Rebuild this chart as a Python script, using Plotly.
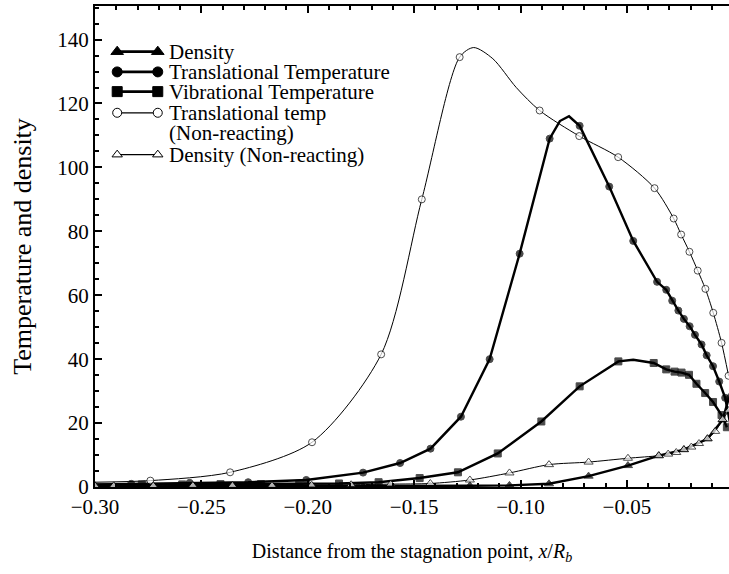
import plotly.graph_objects as go

# ---------------- data ----------------
# Translational temperature, non-reacting (open circles)
trans_nr_x = [-0.300, -0.274, -0.2365, -0.198, -0.1655, -0.1464, -0.1286, -0.122, -0.113, -0.102, -0.091,
              -0.0724, -0.0541, -0.037, -0.028, -0.0245, -0.0206, -0.0167, -0.0131, -0.0094, -0.0055, -0.0022]
trans_nr_y = [1.5, 2.0, 4.6, 14.0, 41.5, 90.0, 134.5, 137.5, 134.0, 125.0, 117.8,
              109.8, 103.2, 93.5, 84.0, 79.0, 73.6, 67.7, 62.0, 54.5, 45.1, 34.8]
trans_nr_mark = [0, 1, 1, 1, 1, 1, 1, 0, 0, 0, 1, 1, 1, 1, 1, 1, 1, 1, 1, 1, 1, 1]

# Translational temperature, reacting (filled circles)
trans_x = [-0.300, -0.283, -0.2555, -0.228, -0.2007, -0.174, -0.1566, -0.1423, -0.128, -0.1145,
           -0.1004, -0.0863, -0.0815, -0.0772, -0.0722, -0.0583, -0.047, -0.0358, -0.0315, -0.0287,
           -0.0258, -0.0232, -0.0205, -0.018, -0.0149, -0.0125, -0.0095, -0.0066, -0.0038, -0.0015]
trans_y = [0.8, 1.0, 1.3, 1.5, 2.2, 4.5, 7.5, 12.0, 22.0, 40.0,
           73.0, 109.0, 114.5, 116.0, 113.0, 94.0, 77.0, 64.2, 61.7, 58.3,
           55.2, 52.6, 50.3, 47.6, 44.6, 41.2, 37.8, 33.0, 27.9, 20.0]
trans_mark = [0, 1, 1, 1, 1, 1, 1, 1, 1, 1, 1, 1, 0, 0, 1, 1, 1, 1, 1, 1,
              1, 1, 1, 1, 1, 1, 1, 1, 1, 0]

# Vibrational temperature (filled squares)
vib_x = [-0.300, -0.278, -0.259, -0.241, -0.222, -0.204, -0.1853, -0.1667, -0.1474, -0.1294,
         -0.1107, -0.0902, -0.0722, -0.054, -0.047, -0.0374, -0.0315, -0.0276, -0.0243, -0.0208,
         -0.0173, -0.0132, -0.0095, -0.0055, -0.003]
vib_y = [0.7, 0.8, 0.8, 0.9, 0.9, 1.0, 1.1, 1.5, 2.8, 4.6,
         10.5, 20.5, 31.5, 39.3, 39.8, 38.8, 36.8, 36.1, 35.8, 35.1,
         32.3, 29.4, 26.6, 22.5, 18.7]
vib_mark = [0, 1, 1, 1, 1, 1, 1, 1, 1, 1, 1, 1, 1, 1, 0, 1, 1, 1, 1, 1, 1, 1, 1, 1, 1]

# Density, non-reacting (open triangles)
dens_nr_x = [-0.300, -0.2912, -0.2726, -0.254, -0.2354, -0.2168, -0.1982, -0.1796, -0.161, -0.1424,
             -0.1238, -0.1052, -0.0866, -0.068, -0.0495, -0.035, -0.0306, -0.0268, -0.0232, -0.0197,
             -0.0161, -0.0121, -0.0085, -0.005, -0.002]
dens_nr_y = [0.4, 0.4, 0.4, 0.5, 0.5, 0.5, 0.6, 0.7, 0.9, 1.1,
             2.2, 4.4, 7.0, 7.8, 9.0, 9.8, 10.3, 10.8, 11.7, 12.5,
             13.6, 15.1, 17.4, 21.1, 24.0]

# Density, reacting (filled triangles)
dens_x = [-0.300, -0.2912, -0.2726, -0.254, -0.2354, -0.2168, -0.1982, -0.1796, -0.161, -0.1424,
          -0.1238, -0.1052, -0.0866, -0.068, -0.0495, -0.035, -0.0232, -0.0121, -0.005, -0.002]
dens_y = [0.2, 0.2, 0.2, 0.2, 0.2, 0.2, 0.2, 0.3, 0.3, 0.3,
          0.4, 0.5, 1.0, 3.4, 6.7, 9.8, 11.7, 15.1, 21.0, 28.0]

legend_labels = ["Density", "Translational Temperature", "Vibrational Temperature",
                 "Translational temp", "(Non-reacting)", "Density (Non-reacting)"]

x_tick_vals = [-0.30, -0.25, -0.20, -0.15, -0.10, -0.05]
x_tick_text = ["\u22120.30", "\u22120.25", "\u22120.20", "\u22120.15", "\u22120.10", "\u22120.05"]
y_tick_vals = [0, 20, 40, 60, 80, 100, 120, 140]

FONT = "Liberation Serif"

fig = go.Figure()

# legend layout (paper fractions inside the plot area)
LEG_X0, LEG_X1, LEG_TX = 0.035, 0.099, 0.113
LEG_ROWS = [0.905, 0.863, 0.822, 0.778, 0.737, 0.691]


def add_series(xs, ys, marks, symbol, msize, lwidth, shape, filled, row, leg_msize):
    sizes = [msize if m else 0 for m in marks]
    mcol = "black" if filled else "white"
    fig.add_trace(go.Scatter(
        x=xs, y=ys, mode="lines+markers", showlegend=False, hoverinfo="skip",
        line=dict(color="black", width=lwidth, shape=shape, smoothing=0.8),
        marker=dict(symbol=symbol, size=sizes, color=mcol, line=dict(color="black", width=1))))
    # legend sample: line with a marker at each end
    fig.add_trace(go.Scatter(
        x=[LEG_X0, LEG_X1], y=[LEG_ROWS[row]] * 2, xaxis="x2", yaxis="y2",
        mode="lines+markers", showlegend=False, hoverinfo="skip",
        line=dict(color="black", width=lwidth + 0.3),
        marker=dict(symbol=symbol, size=leg_msize, color=mcol, line=dict(color="black", width=1))))


add_series(dens_x, dens_y, [1] * len(dens_x), "triangle-up", 8, 2.4, "linear", True, 0, 11)
add_series(trans_x, trans_y, trans_mark, "circle", 7, 2.4, "linear", True, 1, 10)
add_series(vib_x, vib_y, vib_mark, "square", 7, 2.4, "linear", True, 2, 10)
add_series(trans_nr_x, trans_nr_y, trans_nr_mark, "circle", 7, 1.0, "spline", False, 3, 9)
add_series(dens_nr_x, dens_nr_y, [1] * len(dens_nr_x), "triangle-up", 8, 1.0, "spline", False, 5, 9)

annotations = []
for i, lab in enumerate(legend_labels):
    annotations.append(dict(x=LEG_TX, y=LEG_ROWS[i], xref="x2 domain", yref="y2 domain",
                            text=lab, showarrow=False, xanchor="left", yanchor="middle",
                            font=dict(family=FONT, size=21, color="black")))

fig.update_layout(
    width=729, height=574,
    margin=dict(l=95, r=0, t=6, b=87, autoexpand=False),
    paper_bgcolor="white", plot_bgcolor="white",
    font=dict(family=FONT, color="black", size=20),
    showlegend=False,
    annotations=annotations,
    xaxis=dict(
        range=[-0.30, -0.002], showgrid=False, zeroline=False,
        showline=True, linecolor="black", linewidth=2, mirror="ticks",
        ticks="inside", ticklen=7, tickwidth=1.5, tickcolor="black",
        tickvals=x_tick_vals, ticktext=x_tick_text,
        minor=dict(dtick=0.01, tick0=0, ticks="inside", ticklen=4, tickcolor="black"),
        tickfont=dict(family=FONT, size=21),
        title=dict(text="Distance from the stagnation point, <i>x</i>/<i>R<sub>b</sub></i>",
                   font=dict(family=FONT, size=20), standoff=26)),
    yaxis=dict(
        range=[0, 150.5], showgrid=False, zeroline=False,
        showline=True, linecolor="black", linewidth=2, mirror=False,
        ticks="inside", ticklen=7, tickwidth=1.5, tickcolor="black",
        tickvals=y_tick_vals,
        minor=dict(dtick=5, tick0=0, ticks="inside", ticklen=4, tickcolor="black"),
        tickfont=dict(family=FONT, size=21),
        title=dict(text="Temperature and density", font=dict(family=FONT, size=26), standoff=18)),
    xaxis2=dict(range=[0, 1], overlaying="x", visible=False, fixedrange=True),
    yaxis2=dict(range=[0, 1], overlaying="y", visible=False, fixedrange=True),
)

fig.write_html("out.html", config={"displayModeBar": False},
               post_script="document.body.style.margin='0';document.body.style.overflow='hidden';")
